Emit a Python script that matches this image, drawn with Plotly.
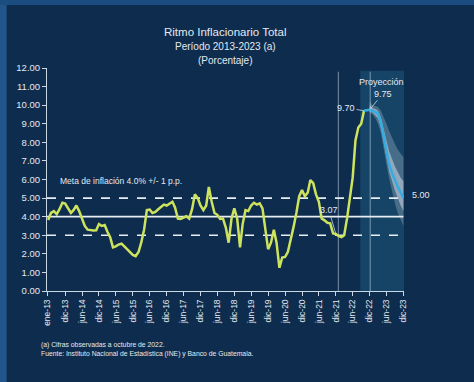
import pandas as pd
import plotly.graph_objects as go

# ---------------- data ----------------
obs_start = "2013-06-01"
obs_values = [3.82, 4.20, 4.30, 4.14, 4.40, 4.75, 4.70, 4.45, 4.20, 4.35,
              4.60, 4.30, 3.90, 3.50, 3.30, 3.27, 3.25, 3.27, 3.60, 3.50,
              3.55, 3.20, 2.90, 2.35, 2.40, 2.50, 2.55, 2.40, 2.25, 2.10,
              1.94, 1.87, 2.10, 2.60, 3.30, 4.35, 4.38, 4.20, 4.25, 4.40,
              4.50, 4.65, 4.60, 4.70, 4.80, 4.50, 3.90, 3.88, 3.95, 4.02,
              3.90, 4.40, 5.20, 5.00, 4.60, 4.35, 4.60, 5.60, 4.80, 4.20,
              4.10, 3.88, 3.90, 3.40, 2.60, 3.90, 4.45, 3.90, 2.35, 3.60,
              4.35, 4.30, 4.60, 4.75, 4.65, 4.72, 4.45, 3.20, 2.25, 2.60,
              3.30, 2.60, 1.25, 1.80, 1.83, 2.10, 2.70, 3.45, 4.20, 5.10,
              5.44, 5.10, 5.30, 5.97, 5.80, 5.20, 4.80, 3.90, 3.80, 3.67,
              3.64, 3.10, 3.07, 2.95, 2.90, 3.00, 3.90, 4.90, 6.10, 8.10,
              8.80, 9.00, 9.70]

proj_start = "2022-10-01"
proj_values = [9.70, 9.72, 9.75, 9.70, 9.62, 9.55, 9.10, 8.40, 7.60, 6.80,
               6.35, 5.95, 5.60, 5.30, 5.00]

fan_start = "2022-12-01"
fan_outer_up = [10.20, 10.00, 9.95, 9.90, 9.70, 9.40, 9.00, 8.60, 8.20, 7.90, 7.60, 7.40, 7.20]
fan_outer_lo = [9.60, 9.50, 9.30, 9.00, 8.50, 7.70, 6.80, 6.00, 5.30, 4.70, 4.20, 3.80, 3.50]
fan_inner_up = [10.00, 9.85, 9.80, 9.70, 9.35, 8.80, 8.10, 7.50, 7.05, 6.70, 6.40, 6.10, 5.90]
fan_inner_lo = [9.65, 9.60, 9.45, 9.30, 8.80, 8.05, 7.20, 6.40, 5.90, 5.40, 5.00, 4.60, 4.30]

target_center = 4.0
target_upper = 5.0
target_lower = 3.0

tick_dates = ["2013-05-19", "2013-12-01", "2014-06-01", "2014-12-01", "2015-06-01",
              "2015-12-01", "2016-06-01", "2016-12-01", "2017-06-01", "2017-12-01",
              "2018-06-01", "2018-12-01", "2019-06-01", "2019-12-01", "2020-06-01",
              "2020-12-01", "2021-06-01", "2021-12-01", "2022-06-01", "2022-12-01",
              "2023-06-01", "2023-12-01"]
tick_labels = ["ene-13", "dic-13", "jun-14", "dic-14", "jun-15", "dic-15", "jun-16",
               "dic-16", "jun-17", "dic-17", "jun-18", "dic-18", "jun-19", "dic-19",
               "jun-20", "dic-20", "jun-21", "dic-21", "jun-22", "dic-22", "jun-23",
               "dic-23"]

x_range = ["2013-05-19", "2023-12-07"]
proj_area_start = "2022-08-22"
vline_dates = ["2021-12-28", "2022-12-07"]

# --------------------------------------
obs_x = pd.date_range(obs_start, periods=len(obs_values), freq="MS")
proj_x = pd.date_range(proj_start, periods=len(proj_values), freq="MS")
fan_x = pd.date_range(fan_start, periods=len(fan_outer_up), freq="MS")

BG = "#0e2c4d"
TXT = "#e3e9f0"
FONT = "Liberation Sans, Arial, sans-serif"

fig = go.Figure()

fig.add_trace(go.Scatter(x=list(fan_x) + list(fan_x[::-1]),
                         y=fan_outer_up + fan_outer_lo[::-1],
                         fill="toself", fillcolor="rgba(225,230,240,0.25)",
                         line=dict(width=0), mode="lines", hoverinfo="skip",
                         showlegend=False))
fig.add_trace(go.Scatter(x=list(fan_x) + list(fan_x[::-1]),
                         y=fan_inner_up + fan_inner_lo[::-1],
                         fill="toself", fillcolor="rgba(240,242,248,0.45)",
                         line=dict(width=0), mode="lines", hoverinfo="skip",
                         showlegend=False))

fig.add_trace(go.Scatter(x=obs_x, y=obs_values, mode="lines",
                         line=dict(color="#cde35e", width=2.5), showlegend=False))
fig.add_trace(go.Scatter(x=proj_x, y=proj_values, mode="lines",
                         line=dict(color="#36ace0", width=2.6), showlegend=False))

shapes = []
shapes.append(dict(type="rect", xref="x", yref="y", x0=proj_area_start, x1=x_range[1],
                   y0=0, y1=11.85, fillcolor="rgba(40,120,160,0.32)", line=dict(width=0),
                   layer="below"))
for d in vline_dates:
    shapes.append(dict(type="line", xref="x", yref="y", x0=d, x1=d, y0=0, y1=11.8,
                       line=dict(color="rgba(190,210,228,0.6)", width=1), layer="below"))
for yv, dash in [(target_upper, "dash"), (target_center, "solid"), (target_lower, "dash")]:
    shapes.append(dict(type="line", xref="x", yref="y", x0=x_range[0], x1="2023-12-01",
                       y0=yv, y1=yv, line=dict(color="#e8edf3", width=1.6, dash=dash),
                       layer="below"))
# frame strips (left and top)
shapes.append(dict(type="rect", xref="paper", yref="paper", x0=-0.14, x1=-0.113,
                   y0=-0.42, y1=1.31, fillcolor="#22558a", line=dict(width=0)))
shapes.append(dict(type="rect", xref="paper", yref="paper", x0=-0.14, x1=1.2,
                   y0=1.283, y1=1.31, fillcolor="#1c4d80", line=dict(width=0)))

annotations = [
    dict(text="Ritmo Inflacionario Total", xref="paper", yref="paper", x=0.4986, y=1.197,
         showarrow=False, font=dict(size=11.5, color=TXT, family=FONT)),
    dict(text="Período 2013-2023 (a)", xref="paper", yref="paper", x=0.4986, y=1.13,
         showarrow=False, font=dict(size=10, color=TXT, family=FONT)),
    dict(text="(Porcentaje)", xref="paper", yref="paper", x=0.4986, y=1.067,
         showarrow=False, font=dict(size=10, color=TXT, family=FONT)),
    dict(text="Meta de inflación 4.0% +/- 1 p.p.", xref="x", yref="y", x="2013-09-15",
         y=5.92, xanchor="left", showarrow=False,
         font=dict(size=8.5, color=TXT, family=FONT)),
    dict(text="3.07", xref="x", yref="y", x="2021-12-01", y=3.07, ax=-7, ay=-24,
         showarrow=True, arrowhead=0, arrowwidth=0.8, arrowcolor="#c9d6e3",
         font=dict(size=9, color=TXT, family=FONT)),
    dict(text="9.70", xref="x", yref="y", x="2022-10-01", y=9.70, ax=-18, ay=-3,
         showarrow=True, arrowhead=0, arrowwidth=0.8, arrowcolor="#c9d6e3",
         font=dict(size=9, color=TXT, family=FONT)),
    dict(text="9.75", xref="x", yref="y", x="2022-12-01", y=9.75, ax=13, ay=-16,
         showarrow=True, arrowhead=0, arrowwidth=0.8, arrowcolor="#c9d6e3",
         font=dict(size=9, color=TXT, family=FONT)),
    dict(text="Proyección", xref="x", yref="y", x="2023-04-13", y=11.25,
         showarrow=False, font=dict(size=9, color=TXT, family=FONT)),
    dict(text="5.00", xref="x", yref="y", x="2023-12-01", y=5.15, xanchor="left",
         xshift=7, showarrow=False, font=dict(size=9, color=TXT, family=FONT)),
    dict(text="(a) Cifras observadas a octubre de 2022.<br>"
              "Fuente: Instituto Nacional de Estadística (INE) y Banco de Guatemala.",
         xref="paper", yref="paper", x=-0.022, y=-0.215, xanchor="left", yanchor="top",
         align="left", showarrow=False, font=dict(size=6.8, color=TXT, family=FONT)),
]

fig.update_layout(
    width=474, height=382,
    margin=dict(l=47, r=70, t=68, b=91),
    paper_bgcolor=BG, plot_bgcolor=BG,
    shapes=shapes, annotations=annotations, showlegend=False,
    font=dict(family=FONT, color=TXT),
    xaxis=dict(type="date", range=x_range, tickvals=tick_dates, ticktext=tick_labels,
               tickangle=-90, ticks="outside", ticklen=4, tickcolor="#c9d6e3",
               showline=True, linecolor="#c9d6e3", linewidth=1, showgrid=False,
               zeroline=False, tickfont=dict(size=8.5, color=TXT, family=FONT)),
    yaxis=dict(range=[0, 12], tickvals=list(range(0, 13)), tickformat=".2f",
               ticks="outside", ticklen=4, tickcolor="#c9d6e3", showline=True,
               linecolor="#c9d6e3", linewidth=1, showgrid=False, zeroline=False,
               tickfont=dict(size=9.5, color=TXT, family=FONT)),
)

fig.write_html("out.html", config={"displayModeBar": False},
               post_script="document.body.style.margin='0';document.body.style.background='" + BG + "';")
